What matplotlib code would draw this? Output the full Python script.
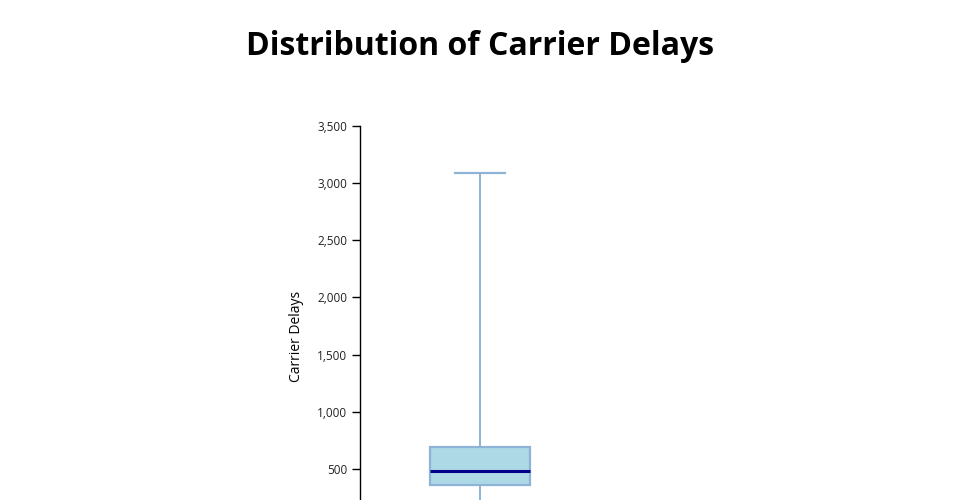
import matplotlib
matplotlib.use("Agg")
import matplotlib.pyplot as plt
from matplotlib.ticker import FuncFormatter

plt.rcParams['font.family'] = ['Open Sans', 'DejaVu Sans']

# summary values of carrier delays
label = "Carrier Delays"
whisker_low = 0
q1 = 362
median = 480
q3 = 695
whisker_high = 3088

stats = [{
    "label": label,
    "whislo": whisker_low,
    "q1": q1,
    "med": median,
    "q3": q3,
    "whishi": whisker_high,
    "fliers": [],
}]

fig = plt.figure(figsize=(9.6, 5), dpi=100)
# axes run off the bottom of the canvas, as in the original
ax = fig.add_axes([360 / 960, -26 / 500, 240 / 960, 400 / 500])

edge = "#8db4d6"
ax.bxp(stats, positions=[120], widths=100, capwidths=50, patch_artist=True,
       showfliers=False,
       boxprops=dict(facecolor="#add8e6", edgecolor=edge, linewidth=1.6),
       whiskerprops=dict(color=edge, linewidth=1.4),
       capprops=dict(color=edge, linewidth=1.6),
       medianprops=dict(color="#00008b", linewidth=2.2))

ax.set_xlim(0, 240)
ax.set_ylim(0, 3500)
ax.set_yticks(range(500, 3501, 500))  # the 0 tick lies below the canvas
ax.yaxis.set_major_formatter(FuncFormatter(lambda v, p: f"{int(v):,}"))
ax.tick_params(axis="y", length=6, width=1, pad=3, labelsize=8.5, labelcolor="#222222")
ax.set_xticks([])
for s in ["top", "right", "bottom"]:
    ax.spines[s].set_visible(False)
ax.spines["left"].set_linewidth(1)

ax.set_ylabel(label, fontsize=10)
ax.yaxis.set_label_coords(-0.232, 0.475)

fig.text(0.5, 1 - 55 / 500, "Distribution of Carrier Delays", ha="center", va="baseline",
         fontsize=23, fontweight="bold")

fig.savefig("out.png", dpi=100)
